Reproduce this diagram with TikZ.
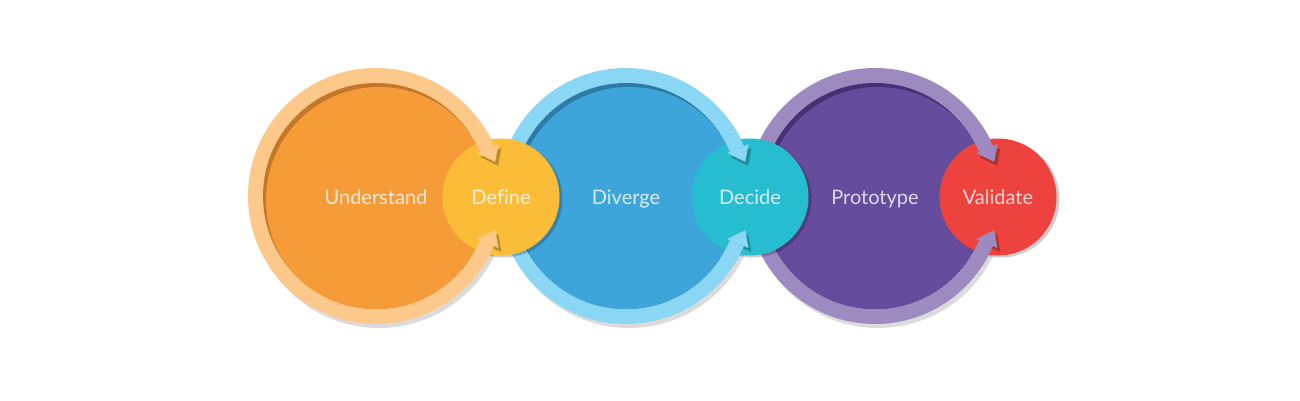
\documentclass[tikz,border=0pt]{standalone}
\usepackage{fontspec}
\setmainfont[Ligatures=NoCommon]{Lato}
\usepackage{xcolor}
\usepackage{tikz}
\usetikzlibrary{positioning}

\definecolor{undRing}{HTML}{FDC98A}
\definecolor{undMain}{HTML}{F59B37}
\definecolor{undDark}{HTML}{C47728}
\definecolor{defCol}{HTML}{FBBD38}
\definecolor{divRing}{HTML}{8AD7F5}
\definecolor{divMain}{HTML}{3DA5DA}
\definecolor{divDark}{HTML}{2C7CA6}
\definecolor{decCol}{HTML}{27BDD1}
\definecolor{proRing}{HTML}{9C8AC0}
\definecolor{proMain}{HTML}{654C9C}
\definecolor{proDark}{HTML}{463272}
\definecolor{valCol}{HTML}{EE423E}

\tikzset{
  shadow/.style={fill=black, opacity=0.14},
  stage/.style={circle, inner sep=0pt, text=white, text opacity=0.78,
    text height=14pt, text depth=0pt, font=\fontsize{20}{24}\selectfont},
}

\begin{document}
\begin{tikzpicture}[x=1pt, y=1pt]
\useasboundingbox (0,0) rectangle (1300,400);

% big circles with their rings
\foreach \name/\x/\ring/\main/\dark/\txt in {understand/376/undRing/undMain/undDark/Understand,
    diverge/626/divRing/divMain/divDark/Diverge, prototype/875/proRing/proMain/proDark/Prototype} {
  \fill[shadow] (\x+3,200) circle (128);
  \node[stage, fill=\ring, minimum size=256pt] (\name-ring) at (\x,204) {};
  \begin{scope}
    \clip (\x,204) circle (113);
    \fill[\dark] (\x,204) circle (113);
    \fill[\main] (\x+3,200) circle (113);
  \end{scope}
  \node[stage] (\name) at (\x,203) {\txt};
}

% small circles
\foreach \name/\x/\col/\txt in {define/501/defCol/Define, decide/750/decCol/Decide,
    validate/998/valCol/Validate} {
  \fill[shadow, opacity=0.2] (\x+3,201) circle (58.5);
  \node[stage, fill=\col, minimum size=117pt] (\name) at (\x,203) {\txt};
}

% arrow ends of the rings
\foreach \name/\ring in {understand/undRing, diverge/divRing, prototype/proRing} {
  \begin{scope}[shift={(\name-ring.center)}]
    \foreach \s in {1,-1} {
      \fill[shadow, opacity=0.25, shift={(3,-4)}] (\s*23:110) -- (\s*16:124) -- (\s*23:133) -- cycle;
      \draw[\ring, line width=15pt] (\s*34:120.5) arc (\s*34:\s*23:120.5);
      \fill[\ring] (\s*23:110) -- (\s*16:124) -- (\s*23:133) -- cycle;
    }
  \end{scope}
}
\end{tikzpicture}
\end{document}
